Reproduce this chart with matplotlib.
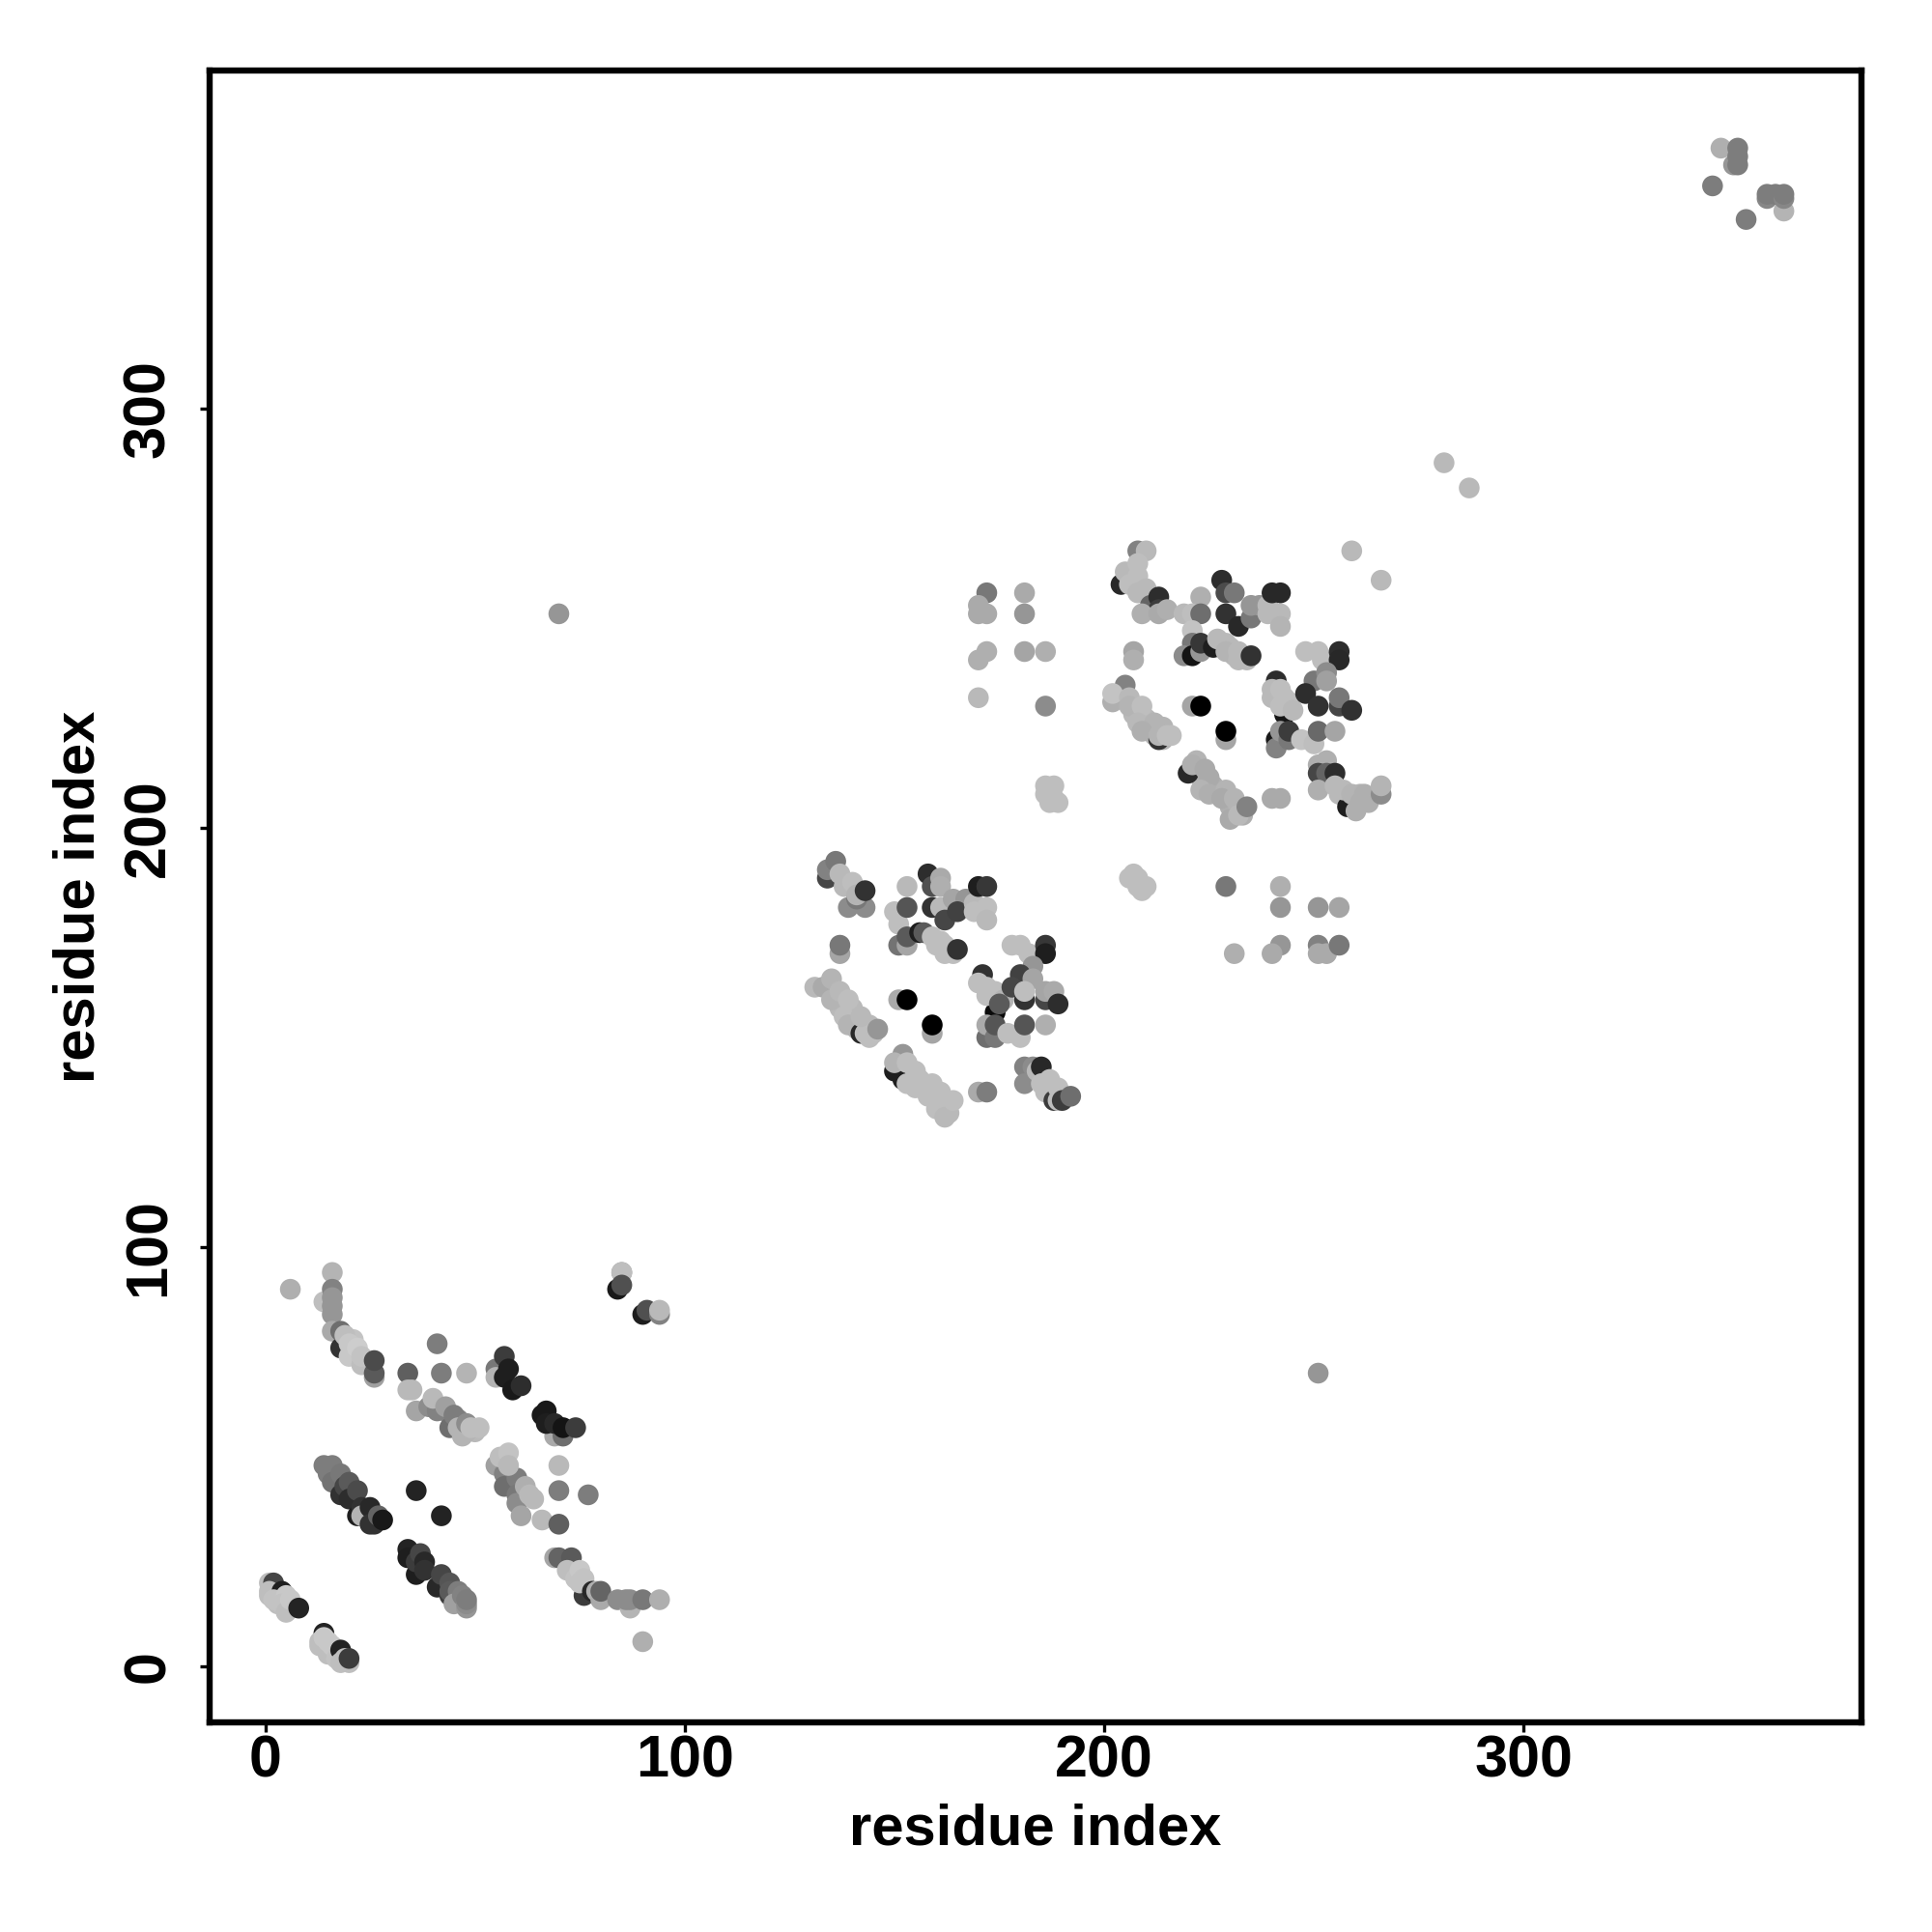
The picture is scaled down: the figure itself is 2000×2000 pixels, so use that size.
import matplotlib
matplotlib.use('Agg')
import matplotlib.pyplot as plt
import numpy as np

# (residue i, residue j, grey level of the contact), listed in drawing order
block_fill = [(59,44,130),(61,42,175),(21,76,200),(21,78,195),(22,74,195),(24,73,190),(46,59,130),(44,60,140),(47,57,170),
              (50,56,185),(48,56,180),(136,160,180),(140,157,185),(137,157,185),(141,154,185),(144,153,185),(145,151,190),
              (141,152,185),(154,141,190),(156,140,190),(157,138,190),(160,136,190),(163,134,190),(161,134,190),(163,132,185),
              (204,231,185),(207,227,185),(210,226,185),(211,224,180),(214,221,180),(212,222,180),
              (223,212,175),(226,210,175),(227,208,175),(230,205,175),(231,204,175),(232,205,180),(233,203,175),
              (243,231,190),(244,228,185),(241,232,190),(254,211,185),(256,208,185),(258,207,185),(260,206,180),(263,206,175),
              (261,208,180),(230,243,185),(231,241,185),(233,241,185),(162,172,190),(164,170,190),(160,172,190)]
block_a_low = [(1,20,190),(2,20,70),(1,18,190),(1,17,190),(4,18,30),(3,15,190),(2,16,195),(5,17,200),
               (4,15,195),(5,13,190),(6,14,190),(6,16,200),(8,14,35),
               (14,8,35),(13,6,190),(13,5,190),(14,7,200),(15,3,190),(15,6,200),(16,5,200),(17,2,195),
               (18,4,35),(18,1,190),(20,1,190),(19,2,190),(20,2,60)]
block_a_band1 = [(14,48,125),(15,47,125),(16,48,125),(15,46,125),(16,44,115),(18,46,120),(18,41,50),(19,43,70),(20,44,90),
                 (20,40,45),(22,42,75),(22,36,30),(23,38,50),(23,36,180),(25,38,40),(25,34,50),(26,34,50),(27,36,100),(28,35,25),
                 (36,42,35),(42,36,35)]
block_a_band2 = [(34,28,35),(34,26,30),(36,22,30),(36,25,60),(37,27,70),(38,25,40),(38,23,50),(41,19,40),(42,22,70),
                 (44,17,60),(44,20,85),(44,18,90),(46,18,125),(45,15,160),(47,17,130),(48,14,150),(48,15,140),(48,16,125)]
block_a_band3 = [(69,26,165),(70,26,100),(73,26,90),(76,17,60),(72,23,190),(74,21,195),(75,23,200),(75,20,195),(76,21,195),
                 (78,18,40),(79,18,175),(80,16,170),(80,18,100),(84,16,140),(87,14,180),(86,16,140),(87,16,140),(90,16,120),
                 (94,16,175),(90,6,175)]
block_a_mid = [(55,48,160),(57,46,130),(57,43,110),(60,45,125),(60,41,120),(60,39,140),(56,50,190),(58,51,195),(58,48,185),
               (62,43,175),(63,41,185),(64,40,185),
               (70,48,185),(70,42,125),(77,41,125),(61,36,165),(66,35,185),(70,34,95)]
block_a_up = [(6,90,175),(16,94,180),(14,87,190),(16,90,130),(16,88,150),(16,86,150),(16,84,150),(16,80,170),(18,76,50),
              (18,80,110),(19,79,190),(20,77,200),(20,74,200),(22,76,205),(23,72,190),(23,74,195),(26,69,160),(26,70,90),(26,73,75),
              (34,70,95),(41,77,125),(42,70,125),(48,70,180),(34,66,185),(35,66,185),(36,61,165),
              (39,62,140),(41,61,130),(40,64,185),(43,62,160),(44,57,110),(45,60,125),(47,55,180),(46,57,180),(48,58,140),(49,57,190),(51,57,190)]
block_a_dark = [(55,71,120),(55,69,180),(57,74,60),(58,71,30),(57,69,30),(59,66,25),(61,67,45),
                (69,55,170),(71,55,110),(66,60,25),(67,61,25),(67,58,30),(69,58,40),(71,57,20),(74,57,60)]
block_a_corner = [(85,94,150),(85,94,190),(84,90,25),(85,91,80),(90,84,30),(91,85,80),(94,84,130),(94,85,185)]

block_b_top = [(134,188,70),(134,190,130),(136,192,120),(137,189,185),(138,186,185),(140,187,190),(139,181,140),(143,181,140),
               (141,183,120),(141,184,180),(143,185,50),
               (137,170,165),(137,172,120),
               (153,186,185),(150,180,190),(151,177,190),(151,172,115),(153,172,165),(153,174,90),(153,181,85),
               (158,189,45),(159,186,80),(161,188,170),(161,186,175),(159,181,50),(161,181,185),(164,183,165),(167,183,150),
               (162,178,70),(165,180,65),(169,182,185),(169,180,190),(172,181,190),(172,178,185),(170,186,30),(172,186,55),
               (156,175,30),(157,175,90),(159,174,190),(161,173,190),(162,170,190),(163,171,190),(165,171,50)]
block_b_left = [(131,162,185),(133,162,170),(135,164,180),(135,159,180),(137,161,185),(139,159,190),(138,155,190),(139,153,180),
                (142,151,40),(143,151,190),(142,155,185),(144,150,190),(146,152,150),
                (151,159,170),(153,159,0),(159,151,165),(159,153,0)]
block_b_right = [(174,156,10),(171,165,50),(170,163,190),(172,162,190),(172,160,190),(174,161,190),(176,159,180),(175,158,90),
                 (178,172,190),(180,172,190),(182,170,190),(186,172,55),(186,170,30),(183,167,150),(180,165,65),(178,162,70),
                 (183,164,165),(181,159,50),(181,161,190),(186,159,70),(186,161,165),(188,161,170),(189,158,45),
                 (172,150,110),(172,153,170),(174,150,120),(174,153,85),(177,151,190),(180,150,190),(181,153,85),(186,153,175)]
block_b_low = [(150,142,30),(152,140,30),(152,146,150),(150,144,180),(153,144,190),(155,142,190),(153,139,190),(155,138,190),
               (159,139,190),(158,136,190),(161,137,190),(160,133,190),(162,135,190),(162,131,185),(164,135,190),
               (170,137,170),(172,137,125),
               (181,143,130),(183,143,140),(181,139,140),(184,142,185),(185,143,40),(185,139,190),(187,140,190),(186,137,190),
               (188,135,60),(189,138,190),(189,135,190),(190,135,60),(192,136,110)]

block_ab_off = [(70,251,150),(251,70,150),
                (172,256,120),(170,253,170),(170,251,170),(172,251,170),(170,240,175),(172,242,175),(170,231,185),
                (181,256,170),(181,251,150),(181,242,165),(186,242,175),(186,229,140),
                (186,210,190),(188,210,190),(186,208,190),(188,207,190),(189,206,190),(187,206,190),
                (206,188,190),(207,189,190),(208,186,190),(208,188,190),(210,186,190),(209,185,190),
                (229,186,120),(242,186,175),(242,181,150),(251,181,150),(256,181,165),(242,172,150),(240,170,170),(231,170,175),
                (251,172,130),(251,170,170),(253,170,170),(256,172,120)]

block_c_top = [(204,258,40),(208,266,130),(210,266,185),(205,261,185),(208,263,190),(206,258,190),(208,260,190),(210,257,185),
               (208,256,185),(211,253,100),(213,255,45),(213,252,60),(209,251,175),(213,251,170),(215,252,175),
               (207,242,165),(207,240,175),
               (223,255,175),(219,251,185),(221,251,190),(223,251,110),(221,247,195),(221,244,120),(219,241,140),(221,241,20),
               (223,242,150),(223,244,55),
               (228,259,45),(229,256,75),(231,256,120),(229,251,50),(232,248,40),(235,250,120),(235,253,150),(237,253,150),
               (239,253,185),(239,251,185),(242,251,185),(242,248,180),(240,256,40),(242,256,40),
               (226,243,30),(227,245,185),(229,244,185),(229,242,180),(232,242,185),(232,240,185),(234,240,185),(235,241,50)]
block_c_left = [(205,234,130),(202,230,175),(202,232,195),(206,231,185),(206,229,180),(209,229,190),(208,225,185),(212,225,180),
                (209,223,175),(213,221,50),(214,224,180),(213,222,180),(215,222,190),(216,222,190),
                (221,229,165),(223,229,0),(229,221,165),(229,223,0)]
block_c_right = [(243,227,20),(241,235,45),(240,233,185),(240,231,185),(242,233,190),(244,230,190),(242,229,190),(245,228,185),
                 (248,242,190),(251,242,190),(252,240,190),(253,239,190),(256,242,45),(256,240,40),
                 (250,235,120),(253,237,140),(253,235,160),(248,232,45),(251,229,50),(256,229,70),(256,231,120),(259,228,50),
                 (241,221,25),(241,219,130),(242,223,150),(244,221,120),(244,223,60),(247,221,195),(250,220,190),(251,223,105),(255,223,165)]
block_c_low = [(220,213,40),(222,216,180),(221,215,175),(224,214,170),(225,212,170),(223,209,180),(225,208,175),(229,209,180),
               (228,207,170),(231,207,180),(230,202,170),(232,203,185),(234,205,130),
               (240,207,170),(242,207,170),
               (251,215,175),(253,216,175),(251,213,70),(253,213,100),(255,213,45),(251,209,175),(258,205,30),(255,210,185),
               (257,209,185),(259,208,180),(260,204,175),(261,206,175),(262,208,175),(266,208,140),(266,210,180)]

block_far = [(259,266,185),(266,259,185),(281,287,185),(287,281,185)]
block_d = [(347,362,175),(350,358,150),(351,362,125),(351,360,125),(351,358,125),(345,353,125),(358,350,135),(358,351,125),
           (360,351,125),(362,347,180),(362,350,135),(362,351,125),(353,345,125)]

contacts = (block_fill + block_a_low + block_a_band1 + block_a_band2 + block_a_band3 + block_a_mid + block_a_up + block_a_dark
            + block_a_corner + block_b_top + block_b_left + block_b_right + block_b_low + block_ab_off
            + block_c_top + block_c_left + block_c_right + block_c_low + block_far + block_d)
contacts = np.array(contacts, dtype=float)

x_ticks = [0, 100, 200, 300]
y_ticks = [0, 100, 200, 300]

plt.rcParams['font.family'] = ['Liberation Sans', 'DejaVu Sans']
plt.rcParams['font.weight'] = 'bold'

fig = plt.figure(figsize=(10, 10), dpi=200)
ax = fig.add_axes([0.1085, 0.1085, 0.855, 0.855])
ax.scatter(contacts[:, 0], contacts[:, 1], c=contacts[:, 2], cmap='gray', vmin=0, vmax=255,
           s=60, linewidths=0, zorder=3)

ax.set_xlim(-13.24, 380.5)
ax.set_ylim(-13.24, 380.5)
ax.set_xticks(x_ticks)
ax.set_yticks(y_ticks)
ax.tick_params(axis='x', length=3.6, width=1.2, labelsize=22, pad=1)
ax.tick_params(axis='y', length=3.6, width=1.2, labelsize=22, pad=8.5)
plt.setp(ax.get_yticklabels(), rotation=90, va='center')
for side in ax.spines.values():
    side.set_linewidth(2.3)

ax.set_xlabel('residue index', fontsize=21.5, fontweight='bold', labelpad=5)
ax.set_ylabel('residue index', fontsize=21.5, fontweight='bold', labelpad=6)

fig.savefig('out.png', dpi=200)
